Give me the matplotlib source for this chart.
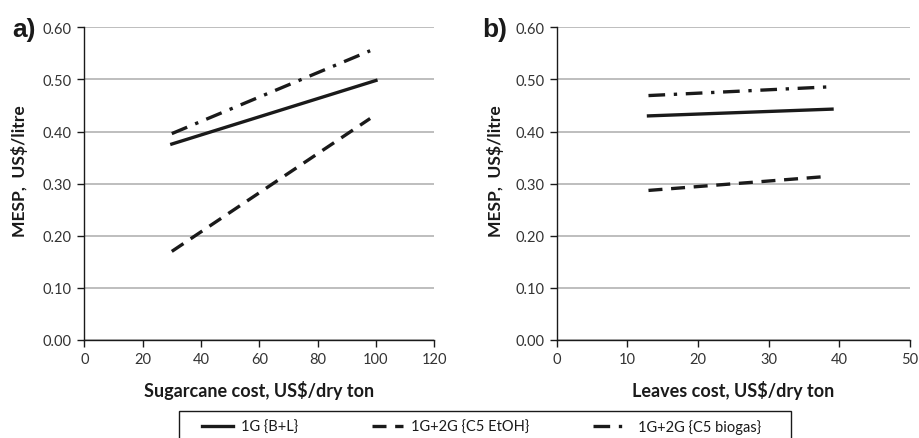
import matplotlib
matplotlib.use("Agg")
import matplotlib.pyplot as plt
from matplotlib.lines import Line2D
from matplotlib.patches import Rectangle

plt.rcParams['font.family'] = ['Lato', 'DejaVu Sans']

# Panel a: sugarcane cost
a_x_solid = [30, 100]
a_solid = [0.376, 0.498]
a_x_dash = [30, 98]
a_dash = [0.170, 0.425]
a_x_dashdot = [30, 98]
a_dashdot = [0.396, 0.555]

# Panel b: leaves cost
b_x_solid = [13, 39]
b_solid = [0.430, 0.443]
b_x_dash = [13, 37.5]
b_dash = [0.287, 0.313]
b_x_dashdot = [13, 39]
b_dashdot = [0.469, 0.486]

series_labels = ["1G {B+L}", "1G+2G {C5 EtOH}", "1G+2G {C5 biogas}"]
y_ticks = [0.0, 0.1, 0.2, 0.3, 0.4, 0.5, 0.6]
a_xticks = [0, 20, 40, 60, 80, 100, 120]
b_xticks = [0, 10, 20, 30, 40, 50]

W, H = 919, 439
fig = plt.figure(figsize=(W / 100, H / 100), dpi=100)

styles = [
    dict(color='#1a1a1a', lw=2.4, linestyle='-'),
    dict(color='#1a1a1a', lw=2.4, linestyle=(0, (4.2, 2.6))),
    dict(color='#1a1a1a', lw=2.4, linestyle=(0, (5.0, 2.6, 1.0, 2.6))),
]

def setup(ax, xticks, xlabel, panel, ylab_x, panel_x):
    ax.set_ylim(0, 0.6)
    ax.set_xlim(xticks[0], xticks[-1])
    ax.set_yticks(y_ticks)
    ax.set_yticklabels([f"{v:.2f}" for v in y_ticks])
    ax.set_xticks(xticks)
    ax.yaxis.grid(True, color='#b3b3b3', lw=1.2)
    ax.set_axisbelow(True)
    for s in ['top', 'right']:
        ax.spines[s].set_visible(False)
    for s in ['left', 'bottom']:
        ax.spines[s].set_color('#1a1a1a')
        ax.spines[s].set_linewidth(1.0)
    ax.tick_params(axis='both', direction='out', length=5, width=1.0,
                   color='#1a1a1a', labelsize=10.5, labelcolor='#333333', pad=4)
    ax.set_xlabel(xlabel, fontsize=13, fontweight='bold', color='#1a1a1a', labelpad=10)
    ax.set_ylabel("MESP,  US$/litre", fontsize=12.6, fontweight='bold', color='#1a1a1a')
    ax.yaxis.set_label_coords(ylab_x, 0.544)
    ax.text(panel_x, 0.995, panel, transform=ax.transAxes, fontsize=19,
            fontweight='bold', color='#1a1a1a', va='center', ha='left',
            family='Liberation Sans')

axa = fig.add_axes([84.3 / W, 1 - 341 / H, 350 / W, 312.7 / H])
axa.plot(a_x_solid, a_solid, **styles[0])
axa.plot(a_x_dash, a_dash, **styles[1])
axa.plot(a_x_dashdot, a_dashdot, **styles[2])
setup(axa, a_xticks, "Sugarcane cost, US$/dry ton", "a)", -0.16, -0.205)

axb = fig.add_axes([556.7 / W, 1 - 341 / H, 353 / W, 312.7 / H])
axb.plot(b_x_solid, b_solid, **styles[0])
axb.plot(b_x_dash, b_dash, **styles[1])
axb.plot(b_x_dashdot, b_dashdot, **styles[2])
setup(axb, b_xticks, "Leaves cost, US$/dry ton", "b)", -0.149, -0.21)

# legend frame
fig.patches.append(Rectangle((179 / W, -0.05), (791 - 179) / W, 0.05 + (H - 412) / H,
                             transform=fig.transFigure, fill=False,
                             edgecolor='#1a1a1a', lw=1.0))
leg_x = [202, 372, 593]
leg_hl = [2.1, 2.1, 2.55]
for i, lab in enumerate(series_labels):
    h = Line2D([], [], **styles[i])
    fig.legend([h], [lab], loc='center left',
               bbox_to_anchor=(leg_x[i] / W, 1 - 428 / H),
               frameon=False, fontsize=10.5, handlelength=leg_hl[i],
               handletextpad=0.55, borderpad=0, borderaxespad=0,
               labelcolor='#1a1a1a')

fig.savefig("out.png", dpi=100)
